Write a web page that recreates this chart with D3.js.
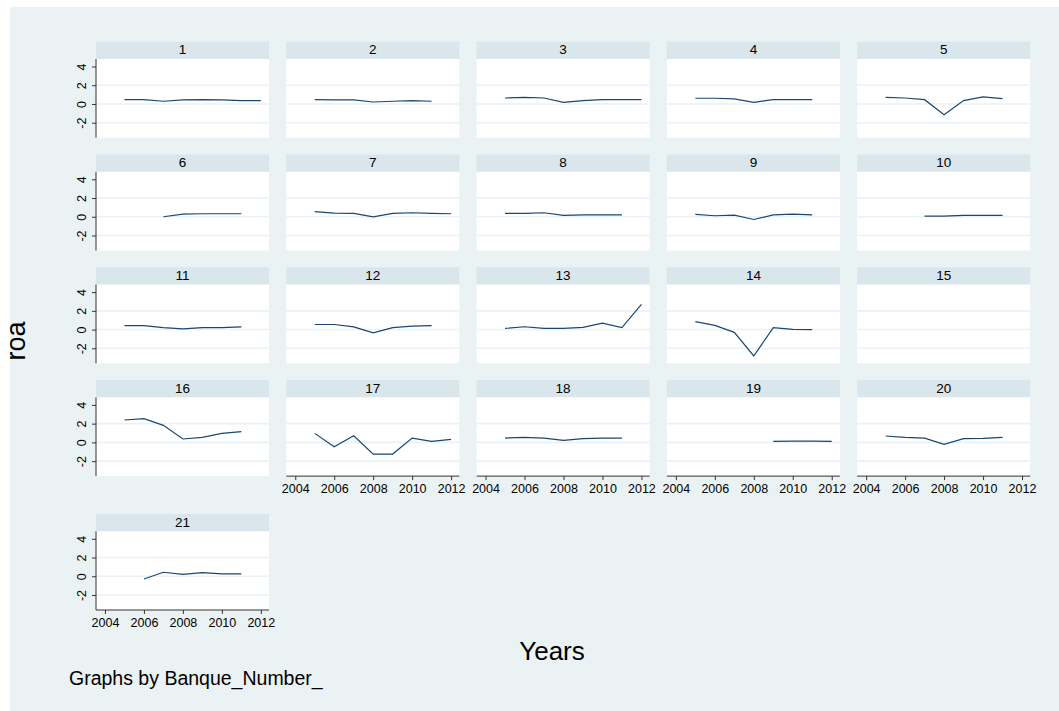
<!DOCTYPE html>
<html>
<head>
<meta charset="utf-8">
<script src="https://cdn.jsdelivr.net/npm/d3@7"></script>
<style>
  html, body { margin: 0; padding: 0; background: #eaf2f3; overflow: hidden; }
  svg { display: block; }
  svg text { font-family: "Liberation Sans", Arial, sans-serif; fill: #000; }
</style>
</head>
<body>
<div id="chart"></div>
<script>
const width = 1059;
const height = 711;

// data: roa by bank, one value per year (null = missing)
const years = [2005, 2006, 2007, 2008, 2009, 2010, 2011, 2012];
const banks = d3.range(1, 22);
const roa = [
  [0.46, 0.46, 0.29, 0.43, 0.46, 0.43, 0.36, 0.36],
  [0.46, 0.43, 0.43, 0.21, 0.29, 0.36, 0.29, null],
  [0.64, 0.71, 0.64, 0.18, 0.36, 0.46, 0.46, 0.46],
  [0.61, 0.61, 0.54, 0.18, 0.46, 0.46, 0.46, null],
  [0.71, 0.64, 0.46, -1.14, 0.36, 0.75, 0.57, null],
  [null, null, 0.0, 0.29, 0.32, 0.32, 0.32, null],
  [0.54, 0.39, 0.36, 0.0, 0.36, 0.43, 0.36, 0.32],
  [0.36, 0.36, 0.43, 0.14, 0.21, 0.21, 0.21, null],
  [0.25, 0.11, 0.18, -0.29, 0.21, 0.29, 0.21, null],
  [null, null, 0.07, 0.07, 0.14, 0.14, 0.14, null],
  [0.43, 0.43, 0.21, 0.07, 0.21, 0.21, 0.29, null],
  [0.54, 0.54, 0.29, -0.36, 0.21, 0.36, 0.43, null],
  [0.12, 0.3, 0.12, 0.12, 0.24, 0.69, 0.21, 2.7],
  [0.84, 0.44, -0.3, -2.82, 0.21, 0.03, 0.0, null],
  [null, null, null, null, null, null, null, null],
  [2.39, 2.54, 1.82, 0.36, 0.54, 0.96, 1.14, null],
  [0.96, -0.46, 0.71, -1.25, -1.25, 0.46, 0.11, 0.32],
  [0.46, 0.54, 0.46, 0.21, 0.39, 0.46, 0.46, null],
  [null, null, null, null, 0.11, 0.14, 0.14, 0.11],
  [0.68, 0.54, 0.46, -0.21, 0.39, 0.43, 0.54, null],
  [null, -0.29, 0.43, 0.21, 0.39, 0.25, 0.25, null]
];
const yTicks = [-2, 0, 2, 4];
const xTicks = [2004, 2006, 2008, 2010, 2012];

// layout
const nCols = 5;
const colX0 = 96, colStep = 190.3, panelW = 173;
const rowY0 = 41.7, rowStep = 112.8, lastRowY = 514;
const stripH = 17.3, plotH = 78.7;

const bg = "#eaf2f3";
const stripFill = "#d9e6eb";
const lineColor = "#1a476f";

const svg = d3.select("#chart")
  .append("svg")
  .attr("width", width)
  .attr("height", height);

// white margin only on left and top, the rest is graph background
svg.append("rect").attr("x", 0).attr("y", 0).attr("width", 10).attr("height", height).attr("fill", "#fff");
svg.append("rect").attr("x", 0).attr("y", 0).attr("width", width).attr("height", 7).attr("fill", "#fff");

const x = d3.scaleLinear().domain([2003.54, 2012.42]).range([0, panelW]);
const y = d3.scaleLinear().domain([-3.6, 4.8]).range([plotH, 0]);

const line = d3.line()
  .defined(d => d.v != null)
  .x(d => x(d.year))
  .y(d => y(d.v));

const nBanks = banks.length;

banks.forEach((bank, i) => {
  const col = i % nCols;
  const row = Math.floor(i / nCols);
  const px = colX0 + col * colStep;
  const py = row < 4 ? rowY0 + row * rowStep : lastRowY;

  const g = svg.append("g").attr("transform", `translate(${px},${py})`);

  // strip
  g.append("rect")
    .attr("width", panelW).attr("height", stripH)
    .attr("fill", stripFill);
  g.append("text")
    .attr("x", panelW / 2).attr("y", 12.8)
    .attr("text-anchor", "middle")
    .attr("font-size", 13.5)
    .text(bank);

  const plot = g.append("g").attr("transform", `translate(0,${stripH})`);

  plot.append("rect")
    .attr("width", panelW).attr("height", plotH)
    .attr("fill", "#fff");

  // grid lines (Stata skips the one at the top edge)
  plot.selectAll("line.grid")
    .data(yTicks.filter(t => t < 4))
    .join("line")
    .attr("class", "grid")
    .attr("x1", 0).attr("x2", panelW)
    .attr("y1", d => y(d)).attr("y2", d => y(d))
    .attr("stroke", bg)
    .attr("stroke-width", 1.6);

  const series = years.map((yr, k) => ({ year: yr, v: roa[i][k] }));
  plot.append("path")
    .datum(series)
    .attr("d", line)
    .attr("fill", "none")
    .attr("stroke", lineColor)
    .attr("stroke-width", 1.2);

  // y axis on first column
  if (col === 0) {
    const ya = plot.append("g")
      .call(d3.axisLeft(y).tickValues(yTicks).tickSize(4).tickPadding(6).tickFormat(d => String(d)));
    ya.select(".domain").attr("d", `M0,0V${plotH}`).attr("stroke", "#333");
    ya.selectAll(".tick line").attr("stroke", "#333");
    ya.selectAll(".tick text")
      .attr("font-size", 12.5)
      .attr("font-family", "Liberation Sans, Arial, sans-serif")
      .attr("fill", "#000")
      .attr("text-anchor", "middle")
      .attr("dy", null)
      .attr("x", null)
      .attr("transform", "translate(-10.5,0) rotate(-90)");
  }

  // x axis on the last panel of each column
  if (i + nCols >= nBanks) {
    const xa = plot.append("g")
      .attr("transform", `translate(0,${plotH})`)
      .call(d3.axisBottom(x).tickValues(xTicks).tickSize(4).tickPadding(4).tickFormat(d => String(d)));
    xa.select(".domain").attr("d", `M0,0H${panelW}`).attr("stroke", "#333");
    xa.selectAll(".tick line").attr("stroke", "#333");
    xa.selectAll(".tick text")
      .attr("font-size", 12.5)
      .attr("font-family", "Liberation Sans, Arial, sans-serif")
      .attr("fill", "#000");
  }
});

// axis titles and note
svg.append("text")
  .attr("transform", "translate(25,341) rotate(-90)")
  .attr("text-anchor", "middle")
  .attr("font-size", 27)
  .text("roa");

svg.append("text")
  .attr("x", 552).attr("y", 660)
  .attr("text-anchor", "middle")
  .attr("font-size", 26)
  .text("Years");

svg.append("text")
  .attr("x", 69).attr("y", 685)
  .attr("font-size", 19.5)
  .text("Graphs by Banque_Number_");
</script>
</body>
</html>
